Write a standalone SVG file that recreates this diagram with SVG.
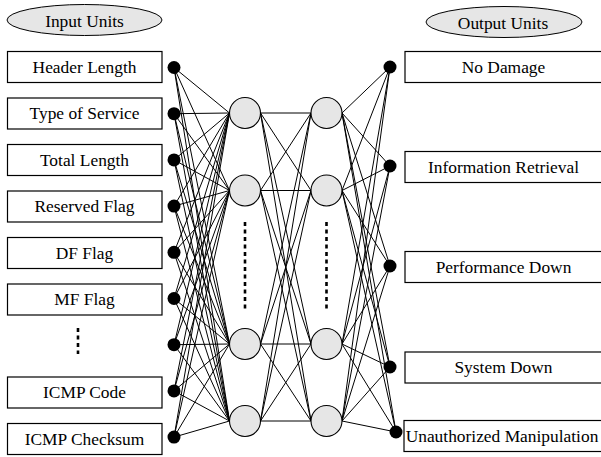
<svg xmlns="http://www.w3.org/2000/svg" width="601" height="457" viewBox="0 0 601 457">
<style>
.box{fill:#fff;stroke:#000;stroke-width:1.2}
.lbl{font-family:"Liberation Serif","Times New Roman",serif;font-size:17.4px;fill:#000;text-anchor:middle}
.dot{fill:#000}
.hid{fill:#e6e6e6;stroke:#000;stroke-width:1.1}
.ell{fill:#e6e6e6;stroke:#000;stroke-width:1}
.edges line{stroke:#000;stroke-width:1}
.dots{stroke:#000;stroke-width:2.6;stroke-dasharray:4,3.5;fill:none}
</style>
<rect width="601" height="457" fill="#fff"/>
<g id="connectors" class="edges">
<line x1="174" y1="67.5" x2="229.5" y2="113"/><line x1="174" y1="67.5" x2="229.5" y2="190.5"/><line x1="174" y1="67.5" x2="229.5" y2="344"/><line x1="174" y1="67.5" x2="229.5" y2="421"/>
<line x1="174" y1="113.7" x2="229.5" y2="113"/><line x1="174" y1="113.7" x2="229.5" y2="190.5"/><line x1="174" y1="113.7" x2="229.5" y2="344"/><line x1="174" y1="113.7" x2="229.5" y2="421"/>
<line x1="174" y1="159.9" x2="229.5" y2="113"/><line x1="174" y1="159.9" x2="229.5" y2="190.5"/><line x1="174" y1="159.9" x2="229.5" y2="344"/><line x1="174" y1="159.9" x2="229.5" y2="421"/>
<line x1="174" y1="206.1" x2="229.5" y2="113"/><line x1="174" y1="206.1" x2="229.5" y2="190.5"/><line x1="174" y1="206.1" x2="229.5" y2="344"/><line x1="174" y1="206.1" x2="229.5" y2="421"/>
<line x1="174" y1="252.3" x2="229.5" y2="113"/><line x1="174" y1="252.3" x2="229.5" y2="190.5"/><line x1="174" y1="252.3" x2="229.5" y2="344"/><line x1="174" y1="252.3" x2="229.5" y2="421"/>
<line x1="174" y1="298.5" x2="229.5" y2="113"/><line x1="174" y1="298.5" x2="229.5" y2="190.5"/><line x1="174" y1="298.5" x2="229.5" y2="344"/><line x1="174" y1="298.5" x2="229.5" y2="421"/>
<line x1="174" y1="344.7" x2="229.5" y2="113"/><line x1="174" y1="344.7" x2="229.5" y2="190.5"/><line x1="174" y1="344.7" x2="229.5" y2="344"/><line x1="174" y1="344.7" x2="229.5" y2="421"/>
<line x1="174" y1="390.9" x2="229.5" y2="113"/><line x1="174" y1="390.9" x2="229.5" y2="190.5"/><line x1="174" y1="390.9" x2="229.5" y2="344"/><line x1="174" y1="390.9" x2="229.5" y2="421"/>
<line x1="174" y1="437.1" x2="229.5" y2="113"/><line x1="174" y1="437.1" x2="229.5" y2="190.5"/><line x1="174" y1="437.1" x2="229.5" y2="344"/><line x1="174" y1="437.1" x2="229.5" y2="421"/>
<line x1="260.5" y1="113" x2="311" y2="113"/><line x1="260.5" y1="113" x2="311" y2="190.5"/><line x1="260.5" y1="113" x2="311" y2="344"/><line x1="260.5" y1="113" x2="311" y2="421"/>
<line x1="260.5" y1="190.5" x2="311" y2="113"/><line x1="260.5" y1="190.5" x2="311" y2="190.5"/><line x1="260.5" y1="190.5" x2="311" y2="344"/><line x1="260.5" y1="190.5" x2="311" y2="421"/>
<line x1="260.5" y1="344" x2="311" y2="113"/><line x1="260.5" y1="344" x2="311" y2="190.5"/><line x1="260.5" y1="344" x2="311" y2="344"/><line x1="260.5" y1="344" x2="311" y2="421"/>
<line x1="260.5" y1="421" x2="311" y2="113"/><line x1="260.5" y1="421" x2="311" y2="190.5"/><line x1="260.5" y1="421" x2="311" y2="344"/><line x1="260.5" y1="421" x2="311" y2="421"/>
<line x1="342" y1="113" x2="390" y2="67"/><line x1="342" y1="113" x2="390" y2="166"/><line x1="342" y1="113" x2="390" y2="266"/><line x1="342" y1="113" x2="390" y2="367"/><line x1="342" y1="113" x2="396" y2="432"/>
<line x1="342" y1="190.5" x2="390" y2="67"/><line x1="342" y1="190.5" x2="390" y2="166"/><line x1="342" y1="190.5" x2="390" y2="266"/><line x1="342" y1="190.5" x2="390" y2="367"/><line x1="342" y1="190.5" x2="396" y2="432"/>
<line x1="342" y1="344" x2="390" y2="67"/><line x1="342" y1="344" x2="390" y2="166"/><line x1="342" y1="344" x2="390" y2="266"/><line x1="342" y1="344" x2="390" y2="367"/><line x1="342" y1="344" x2="396" y2="432"/>
<line x1="342" y1="421" x2="390" y2="67"/><line x1="342" y1="421" x2="390" y2="166"/><line x1="342" y1="421" x2="390" y2="266"/><line x1="342" y1="421" x2="390" y2="367"/><line x1="342" y1="421" x2="396" y2="432"/>
</g>
<g id="input-units-title"><ellipse class="ell" cx="84.5" cy="20" rx="77.5" ry="15.5"/><text class="lbl" x="84.5" y="26.5">Input Units</text></g>
<g id="output-units-title"><ellipse class="ell" cx="504" cy="22" rx="78" ry="15.5"/><text class="lbl" x="503" y="28.5">Output Units</text></g>
<g id="in-header-length"><rect class="box" x="7.5" y="51.5" width="154.5" height="31"/><text class="lbl" x="84.5" y="72.5">Header Length</text><circle class="dot" cx="174" cy="67.5" r="6.5"/></g>
<g id="in-type-of-service"><rect class="box" x="7.5" y="98" width="154.5" height="31"/><text class="lbl" x="84.5" y="119">Type of Service</text><circle class="dot" cx="174" cy="113.7" r="6.5"/></g>
<g id="in-total-length"><rect class="box" x="7.5" y="144.5" width="154.5" height="31"/><text class="lbl" x="84.5" y="165.5">Total Length</text><circle class="dot" cx="174" cy="159.9" r="6.5"/></g>
<g id="in-reserved-flag"><rect class="box" x="7.5" y="191" width="154.5" height="31"/><text class="lbl" x="84.5" y="212">Reserved Flag</text><circle class="dot" cx="174" cy="206.1" r="6.5"/></g>
<g id="in-df-flag"><rect class="box" x="7.5" y="237.5" width="154.5" height="31"/><text class="lbl" x="84.5" y="258.5">DF Flag</text><circle class="dot" cx="174" cy="252.3" r="6.5"/></g>
<g id="in-mf-flag"><rect class="box" x="7.5" y="284" width="154.5" height="31"/><text class="lbl" x="84.5" y="305">MF Flag</text><circle class="dot" cx="174" cy="298.5" r="6.5"/></g>
<g id="in-more"><line class="dots" x1="78" y1="328" x2="78" y2="354"/><circle class="dot" cx="174" cy="344.7" r="6.5"/></g>
<g id="in-icmp-code"><rect class="box" x="7.5" y="377" width="154.5" height="31"/><text class="lbl" x="84.5" y="398">ICMP Code</text><circle class="dot" cx="174" cy="390.9" r="6.5"/></g>
<g id="in-icmp-checksum"><rect class="box" x="7.5" y="423.5" width="154.5" height="31"/><text class="lbl" x="84.5" y="444.5">ICMP Checksum</text><circle class="dot" cx="174" cy="437.1" r="6.5"/></g>
<g id="hidden1"><circle class="hid" cx="245" cy="113" r="15.5"/><circle class="hid" cx="245" cy="190.5" r="15.5"/><line class="dots" x1="245" y1="222" x2="245" y2="312"/><circle class="hid" cx="245" cy="344" r="15.5"/><circle class="hid" cx="245" cy="421" r="15.5"/></g>
<g id="hidden2"><circle class="hid" cx="326.5" cy="113" r="15.5"/><circle class="hid" cx="326.5" cy="190.5" r="15.5"/><line class="dots" x1="326.5" y1="222" x2="326.5" y2="312"/><circle class="hid" cx="326.5" cy="344" r="15.5"/><circle class="hid" cx="326.5" cy="421" r="15.5"/></g>
<g id="out-no-damage"><circle class="dot" cx="390" cy="67" r="6.5"/><rect class="box" x="405" y="51.5" width="200" height="31"/><text class="lbl" x="503.5" y="72.5">No Damage</text></g>
<g id="out-information-retrieval"><circle class="dot" cx="390" cy="166" r="6.5"/><rect class="box" x="405" y="151.5" width="200" height="31"/><text class="lbl" x="503.5" y="172.5">Information Retrieval</text></g>
<g id="out-performance-down"><circle class="dot" cx="390" cy="266" r="6.5"/><rect class="box" x="405" y="251.5" width="200" height="31"/><text class="lbl" x="503.5" y="272.5">Performance Down</text></g>
<g id="out-system-down"><circle class="dot" cx="390" cy="367" r="6.5"/><rect class="box" x="405" y="352" width="200" height="31"/><text class="lbl" x="503.5" y="373">System Down</text></g>
<g id="out-unauthorized-manipulation"><circle class="dot" cx="396" cy="432" r="6.5"/><rect class="box" x="404" y="420.5" width="200" height="31"/><text class="lbl" x="502" y="441.5">Unauthorized Manipulation</text></g>
</svg>
